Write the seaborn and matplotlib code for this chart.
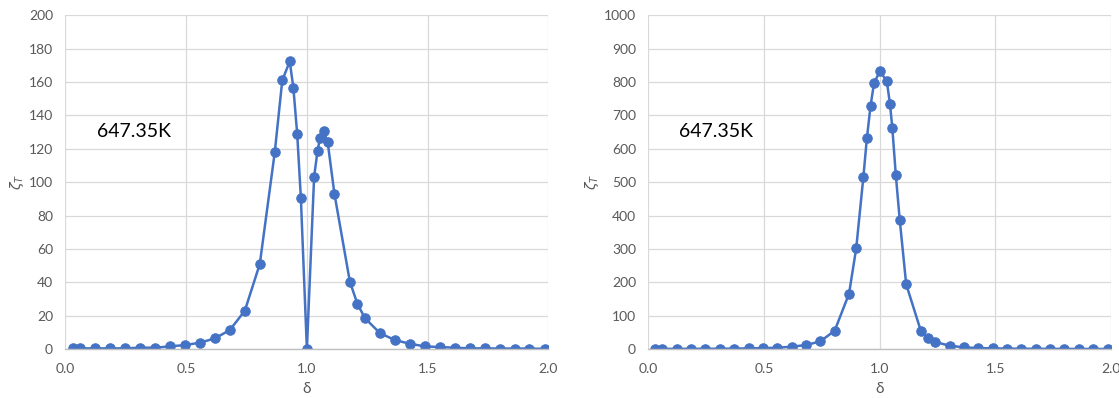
import matplotlib
matplotlib.use("Agg")
import matplotlib.pyplot as plt
import seaborn as sns
import pandas as pd

# Reduced density grid shared by both panels
delta = [0.03, 0.06, 0.122, 0.184, 0.246, 0.309, 0.371, 0.433, 0.495, 0.557,
         0.619, 0.681, 0.743, 0.805, 0.867, 0.898, 0.929, 0.944, 0.96, 0.975,
         1.0, 1.03, 1.044, 1.054, 1.069, 1.086, 1.114, 1.178, 1.209, 1.24,
         1.302, 1.364, 1.426, 1.488, 1.55, 1.612, 1.674, 1.736, 1.798, 1.86,
         1.922, 1.985]

# zeta_T values, left panel
zeta_left = [0.4, 0.4, 0.4, 0.4, 0.4, 0.8, 0.8, 1.6, 2.4, 3.8,
             6.4, 11.4, 23, 51, 118, 161, 172.4, 156.6, 128.7, 90.7,
             0, 103.3, 118.7, 126.3, 130.7, 124.1, 93.1, 40.4, 27.2, 18.6,
             9.6, 5.4, 3.2, 1.6, 1.2, 0.8, 0.4, 0.4, 0.3, 0.3,
             0.3, 0.1]

# zeta_T values, right panel
zeta_right = [0.5, 0.5, 0.6, 0.7, 0.8, 1, 1.3, 2, 2.5, 4,
              7, 12, 23, 55, 166, 302, 516, 631, 729, 797,
              832, 804, 734, 663, 523, 388, 194, 53, 33, 21,
              10, 5, 3, 2, 1.5, 1, 0.8, 0.6, 0.5, 0.4,
              0.3, 0.3]

label_text = "647.35K"
x_ticks = [0.0, 0.5, 1.0, 1.5, 2.0]
y_ticks_left = list(range(0, 201, 20))
y_ticks_right = list(range(0, 1001, 100))

sns.set_theme(style="white")
plt.rcParams["font.family"] = ["Lato", "DejaVu Sans"]

blue = "#4472C4"
grid_c = "#D9D9D9"
tick_c = "#595959"

fig = plt.figure(figsize=(11.19, 3.98), dpi=100)
ax1 = fig.add_axes([0.0585, 0.123, 0.4315, 0.8385])
ax2 = fig.add_axes([0.5795, 0.123, 0.4135, 0.8385])

panels = [(ax1, zeta_left, y_ticks_left),
          (ax2, zeta_right, y_ticks_right)]

for ax, vals, yt in panels:
    df = pd.DataFrame({"delta": delta, "zeta": vals})
    sns.lineplot(data=df, x="delta", y="zeta", ax=ax, color=blue,
                 linewidth=1.8, marker="o", markersize=6.8,
                 markeredgecolor=blue, markerfacecolor=blue, sort=False)
    ax.set_xlim(0, 2.0)
    ax.set_ylim(0, yt[-1])
    ax.set_xticks(x_ticks)
    ax.set_xticklabels([f"{t:.1f}" for t in x_ticks])
    ax.set_yticks(yt)
    ax.set_yticklabels([str(t) for t in yt])
    ax.tick_params(axis="x", length=0, labelsize=10, colors=tick_c, pad=10)
    ax.tick_params(axis="y", length=0, labelsize=10, colors=tick_c, pad=9)
    ax.grid(True, color=grid_c, linewidth=0.9)
    ax.set_axisbelow(True)
    for s in ["top", "right", "left"]:
        ax.spines[s].set_visible(False)
    ax.spines["bottom"].set_color("#BFBFBF")
    ax.spines["bottom"].set_linewidth(1.0)
    ax.set_xlabel("δ", fontsize=11, color=tick_c, labelpad=5)
    ax.set_ylabel(r"$\zeta_T$", fontsize=10, color=tick_c, labelpad=2)
    ax.text(0.066, 0.652, label_text, transform=ax.transAxes,
            fontsize=14, color="black", va="center", ha="left")

fig.savefig("out.png", dpi=100)
